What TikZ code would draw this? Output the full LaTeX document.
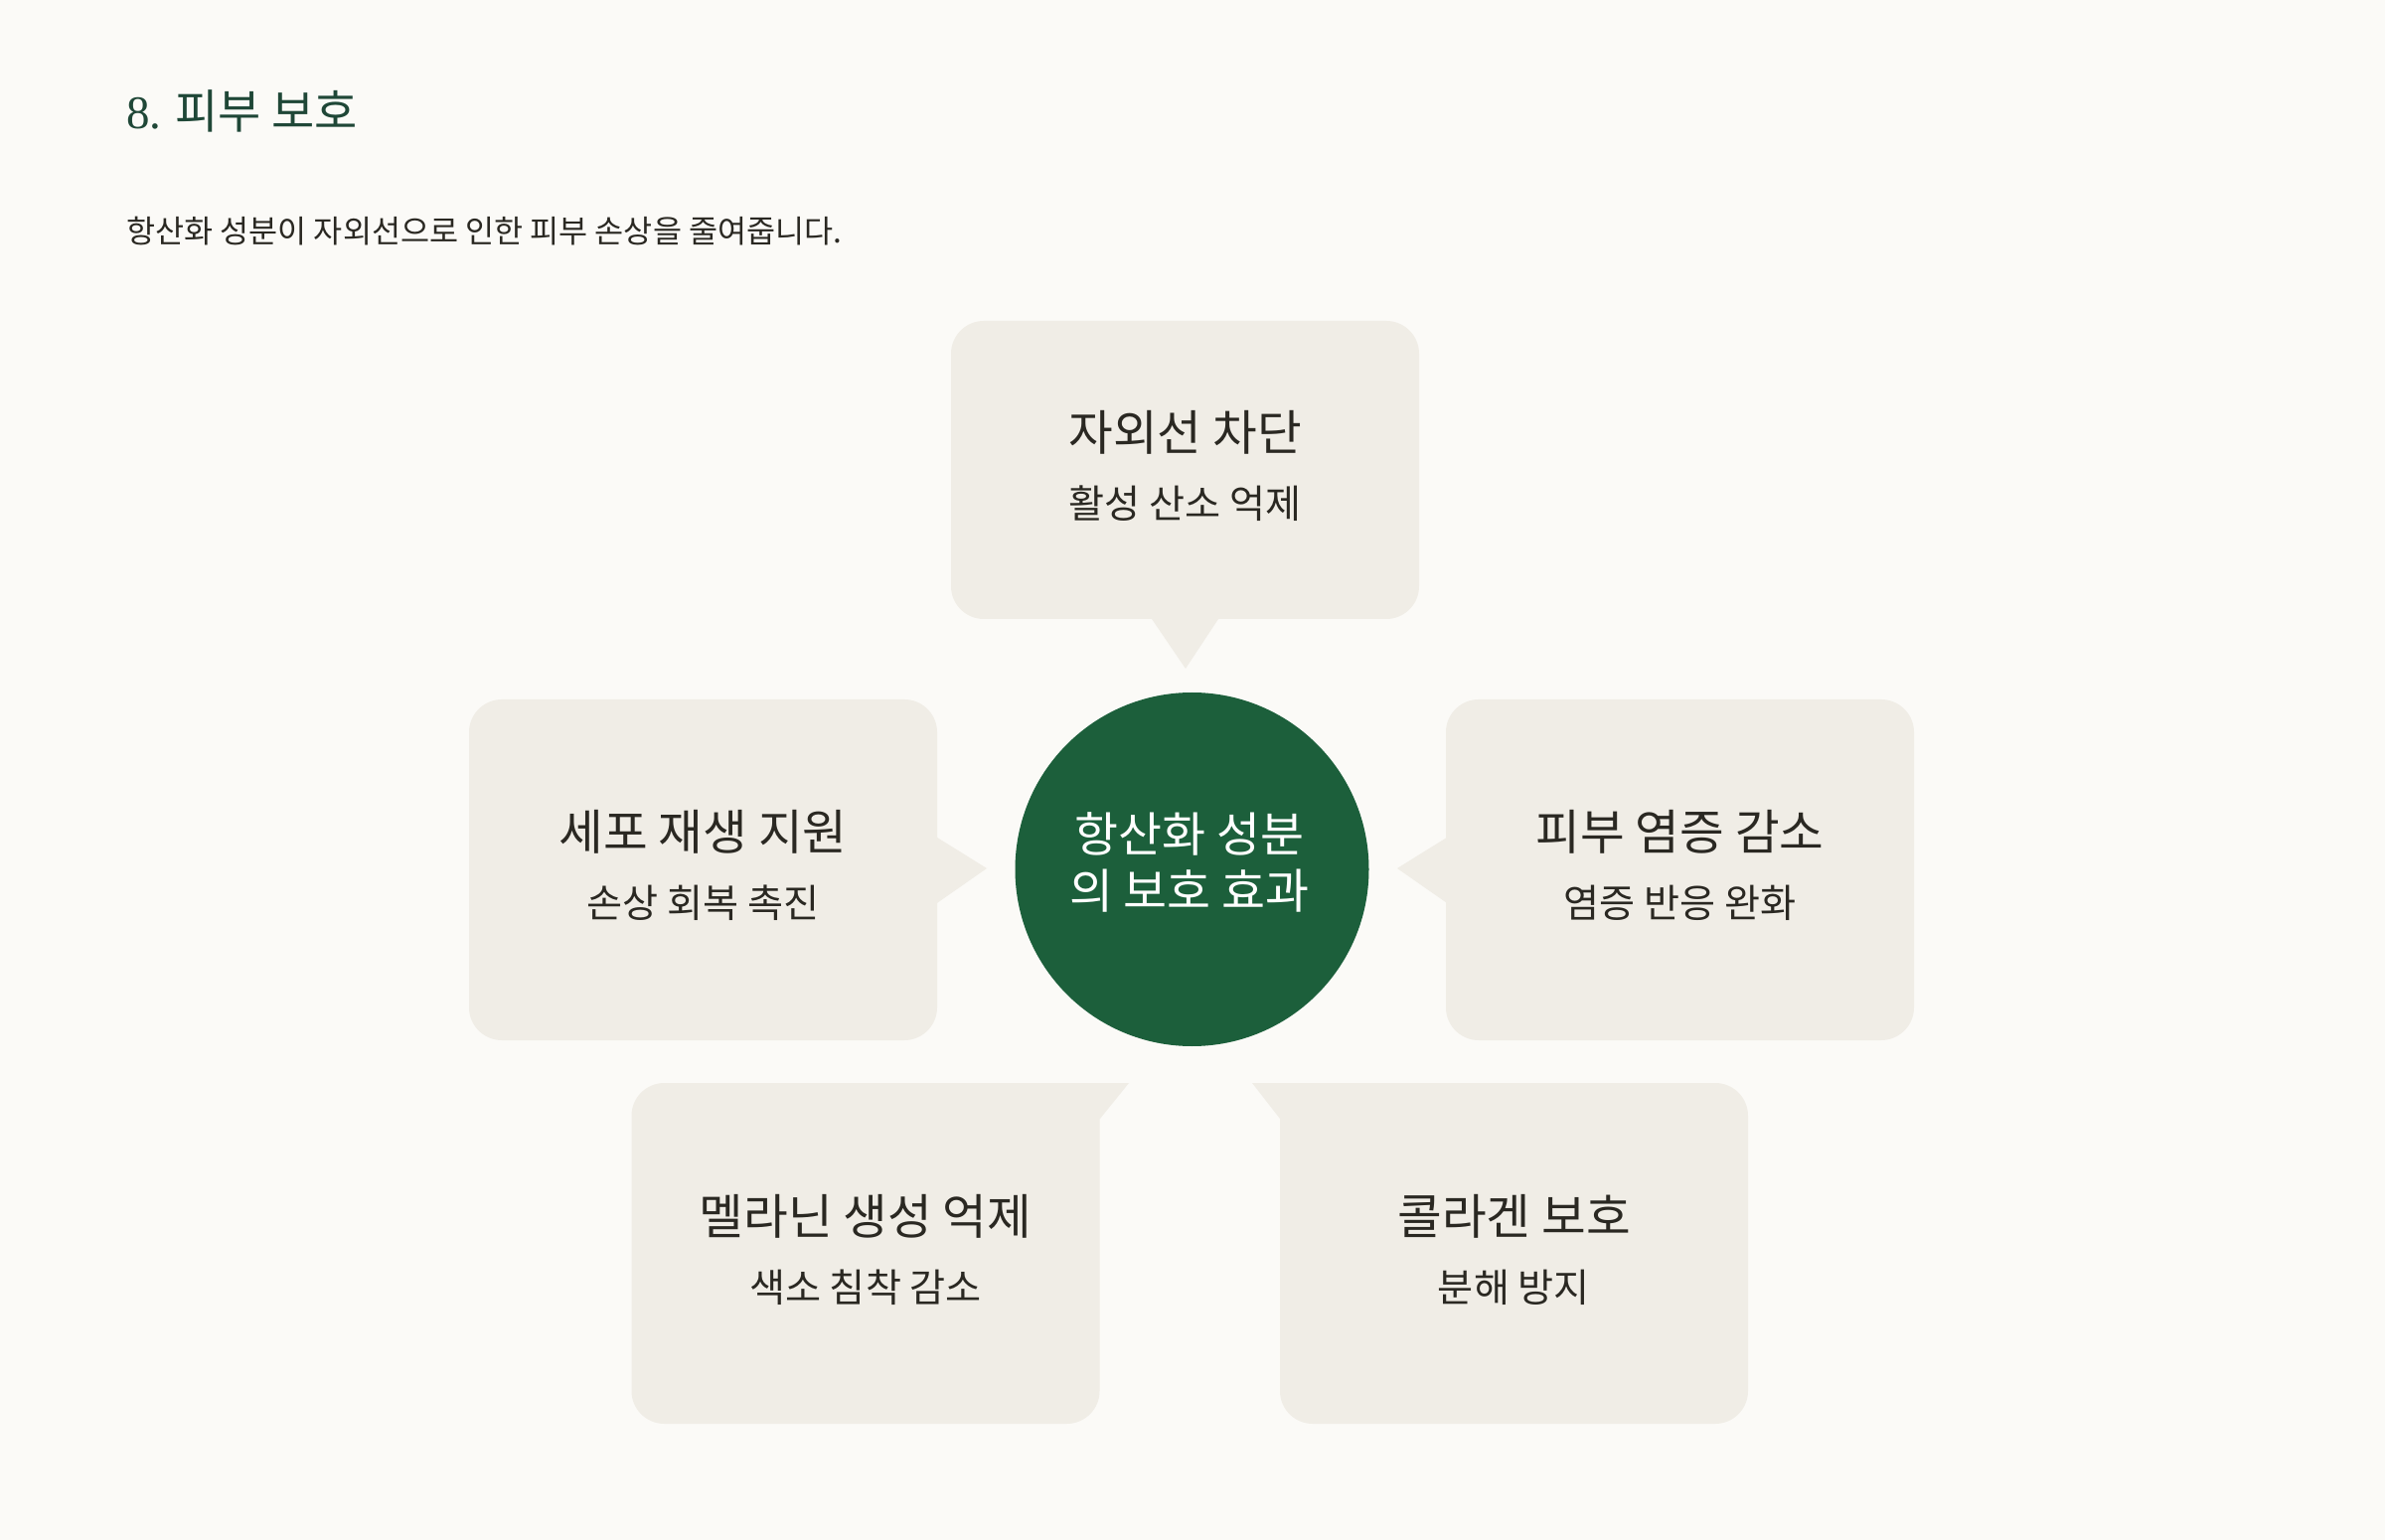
\documentclass[tikz,border=0pt]{standalone}
\usepackage{fontspec}
\setmainfont{Noto Sans CJK KR}
\newfontfamily\numserif{Liberation Serif}
\definecolor{bgc}{HTML}{FBFAF7}
\definecolor{boxc}{HTML}{F0EDE6}
\definecolor{greenc}{HTML}{1C5F3B}
\definecolor{headc}{HTML}{1F4737}
\definecolor{textc}{HTML}{2A2822}
\tikzset{
  callout/.style={rectangle, rounded corners=16.5pt, fill=boxc, minimum width=235.5pt, inner sep=0pt},
  boxtitle/.style={inner sep=0pt, text=textc, font=\fontsize{24.3pt}{29pt}\selectfont},
  boxsub/.style={inner sep=0pt, text=textc, font=\fontsize{19.6pt}{24pt}\selectfont},
  hubtext/.style={inner sep=0pt, text=white, font=\fontsize{23.9pt}{29pt}\selectfont},
  pointer/.style={fill=boxc}
}
\begin{document}
\begin{tikzpicture}[x=0.5pt,y=-0.5pt]
\fill[bgc] (0,0) rectangle (2400,1550);
\useasboundingbox (0,0) rectangle (2400,1550);

% heading
\node[anchor=west, inner sep=0pt, text=headc, font=\fontsize{23.5pt}{28pt}\selectfont] (head) at (127,112) {{\numserif 8.} 피부 보호};
\node[anchor=west, inner sep=0pt, text=textc, font=\fontsize{15.8pt}{19pt}\selectfont] (lead) at (127,233) {항산화 성분이 자외선으로 인한 피부 손상을 줄여줍니다.};

% callout boxes
\node[callout, minimum height=150pt] (top) at (1192.5,473) {};
\node[callout, minimum height=171.5pt] (left) at (707.5,875.5) {};
\node[callout, minimum height=171.5pt] (right) at (1690.5,875.5) {};
\node[callout, minimum height=171.5pt] (bl) at (871,1261.5) {};
\node[callout, minimum height=171.5pt] (br) at (1523.5,1261.5) {};

% pointers
\fill[pointer] (1157,620) -- (1193,673) -- (1228,620) -- cycle;
\fill[pointer] (940,841) -- (993,874) -- (940,911) -- cycle;
\fill[pointer] (1459,841) -- (1406,874) -- (1459,911) -- cycle;
\fill[pointer] (1060,1090) -- (1136,1090) -- (1107,1126) -- (1060,1126) -- cycle;
\fill[pointer] (1260,1090) -- (1336,1090) -- (1336,1126) -- (1288,1126) -- cycle;

% hub
\node[circle, fill=greenc, minimum size=178pt, inner sep=0pt] (hub) at (1199.5,875) {};
\node[hubtext] (hub1) at (1197,839) {항산화 성분};
\node[hubtext] (hub2) at (1197,897) {의 보호 효과};

% texts
\node[boxtitle] (topt) at (1192.5,435) {자외선 차단};
\node[boxsub] (tops) at (1192.5,507) {활성 산소 억제};
\node[boxtitle] (leftt) at (707.5,837) {세포 재생 지원};
\node[boxsub] (lefts) at (707.5,909) {손상 회복 촉진};
\node[boxtitle] (rightt) at (1690.5,837) {피부 염증 감소};
\node[boxsub] (rights) at (1690.5,909) {염증 반응 완화};
\node[boxtitle] (blt) at (871,1224) {멜라닌 생성 억제};
\node[boxsub] (bls) at (871,1296) {색소 침착 감소};
\node[boxtitle] (brt) at (1523.5,1224) {콜라겐 보호};
\node[boxsub] (brs) at (1523.5,1296) {분해 방지};
\end{tikzpicture}
\end{document}
